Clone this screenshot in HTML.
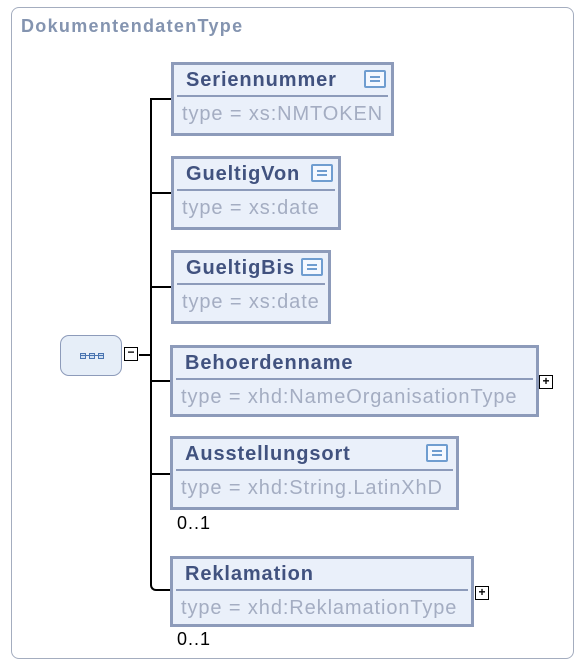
<!DOCTYPE html>
<html><head><meta charset="utf-8"><style>
body{margin:0;width:587px;height:671px;background:#fff;position:relative;font-family:"Liberation Sans","DejaVu Sans",sans-serif;overflow:hidden}
.frame{position:absolute;left:11px;top:7px;width:563px;height:652px;border:1.5px solid #a4adbf;border-radius:8px;box-sizing:border-box}
.title{position:absolute;left:21px;top:16px;font-weight:bold;font-size:18px;letter-spacing:1.3px;color:#8494b0}
.box{position:absolute;box-sizing:border-box;border:3px solid #8d9bba;background:#eaf0fa}
.box .n{position:absolute;left:12px;top:4px;font-weight:bold;font-size:20px;letter-spacing:0.9px;color:#41527f;white-space:nowrap}
.box .d{position:absolute;left:3px;right:3px;top:30px;border-top:2px solid #8d9bba}
.box .t{position:absolute;left:8px;top:38px;font-size:20px;letter-spacing:0.9px;color:#a4adc2;white-space:nowrap}
.ic{position:absolute;top:5px;width:18px;height:14px;border:2px solid #6f9dd0;background:#f4f8ff;border-radius:2px}
.ic:before,.ic:after{content:"";position:absolute;left:4px;right:4px;height:1.5px;background:#6f9dd0}
.ic:before{top:4px}.ic:after{top:8px}
.pl{position:absolute;width:12px;height:12px;border:1.5px solid #000;background:#fff;font-size:12px;line-height:11px;text-align:center;font-weight:bold}
.h{position:absolute;height:2px;background:#000}
.m{position:absolute;font-size:18px;letter-spacing:1px;color:#000}
.sq{position:absolute;width:4px;height:4px;border:1px solid #4a74b0;background:#cfe0f4}
</style></head><body>
<div class="frame"></div>
<div class="title">DokumentendatenType</div>
<div style="position:absolute;left:60px;top:335px;width:62px;height:41px;box-sizing:border-box;border:1.5px solid #8d9bba;border-radius:9px;background:#e6eef8"></div>
<div class="sq" style="left:80px;top:353px"></div><div class="sq" style="left:89px;top:353px"></div><div class="sq" style="left:98px;top:353px"></div>
<div style="position:absolute;left:80px;top:355px;width:24px;height:1px;background:#4a74b0"></div>
<div class="pl" style="left:124px;top:347px;line-height:9px">−</div>
<div class="h" style="left:139px;top:354px;width:13px"></div>
<div style="position:absolute;left:150px;top:98px;width:12px;height:491px;border-left:2px solid #000;border-bottom:2px solid #000;border-bottom-left-radius:6px"></div>
<div class="h" style="left:151px;top:98px;width:20px"></div>
<div class="h" style="left:151px;top:192px;width:20px"></div>
<div class="h" style="left:151px;top:286px;width:20px"></div>
<div class="h" style="left:151px;top:380px;width:20px"></div>
<div class="h" style="left:151px;top:473px;width:20px"></div>
<div class="h" style="left:158px;top:589px;width:13px"></div>

<div class="box" style="left:171px;top:62px;width:223px;height:74px"><div class="n">Seriennummer</div><div class="ic" style="left:190px"></div><div class="d"></div><div class="t">type = xs:NMTOKEN</div></div>
<div class="box" style="left:171px;top:156px;width:170px;height:74px"><div class="n">GueltigVon</div><div class="ic" style="left:137px"></div><div class="d"></div><div class="t">type = xs:date</div></div>
<div class="box" style="left:171px;top:250px;width:160px;height:74px"><div class="n">GueltigBis</div><div class="ic" style="left:127px"></div><div class="d"></div><div class="t">type = xs:date</div></div>
<div class="box" style="left:170px;top:345px;width:369px;height:72px"><div class="n">Behoerdenname</div><div class="d"></div><div class="t">type = xhd:NameOrganisationType</div></div>
<div class="pl" style="left:539px;top:375px">+</div>
<div class="box" style="left:170px;top:436px;width:289px;height:74px"><div class="n">Ausstellungsort</div><div class="ic" style="left:253px"></div><div class="d"></div><div class="t">type = xhd:String.LatinXhD</div></div>
<div class="m" style="left:177px;top:513px">0..1</div>
<div class="box" style="left:170px;top:556px;width:304px;height:71px"><div class="n">Reklamation</div><div class="d"></div><div class="t">type = xhd:ReklamationType</div></div>
<div class="pl" style="left:475px;top:586px">+</div>
<div class="m" style="left:177px;top:629px">0..1</div>
</body></html>
